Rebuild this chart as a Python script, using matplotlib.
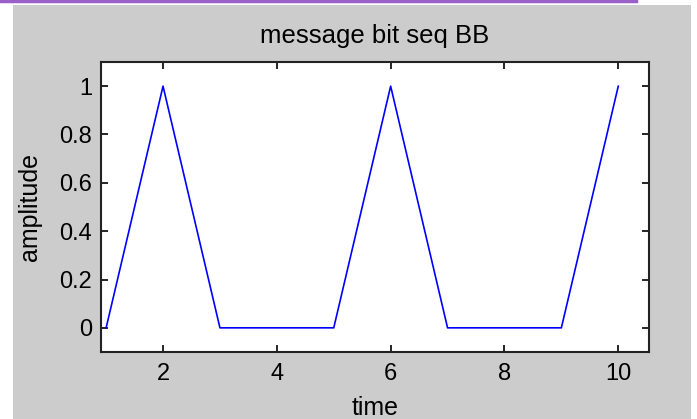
import matplotlib
matplotlib.use("Agg")
import matplotlib.pyplot as plt
from matplotlib.patches import Rectangle
from matplotlib.lines import Line2D

t = [1, 2, 3, 4, 5, 6, 7, 8, 9, 10]
amp = [0, 1, 0, 0, 0, 1, 0, 0, 0, 1]
xticks = [2, 4, 6, 8, 10]
yticks = [0, 0.2, 0.4, 0.6, 0.8, 1]
ytick_labels = ["0", "0.2", "0.4", "0.6", "0.8", "1"]

plt.rcParams['font.family'] = ['Liberation Sans', 'DejaVu Sans']

W, H = 697, 419
fig = plt.figure(figsize=(W / 100, H / 100), dpi=100, facecolor='white')

# gray figure region
fig.patches.append(Rectangle((13 / W, 0), (691 - 13) / W, (H - 5) / H,
                             transform=fig.transFigure, facecolor='#cccccc',
                             edgecolor='none', zorder=-10))
# purple line at top
fig.lines.append(Line2D([0, 636 / W], [1 - 1.5 / H, 1 - 1.5 / H],
                        transform=fig.transFigure, color='#9a5fc8', lw=2.5,
                        zorder=-5))

l, r, top, bot = 101, 649, 62, 352
ax = fig.add_axes([l / W, 1 - bot / H, (r - l) / W, (bot - top) / H])
ax.set_zorder(1)
ax.set_facecolor('white')
ax.plot(t, amp, color='#0000ff', lw=1.2)
ax.set_xlim(0.91, 10.54)
ax.set_ylim(-0.1, 1.1)
ax.set_xticks(xticks)
ax.set_xticklabels([str(v) for v in xticks])
ax.set_yticks(yticks)
ax.set_yticklabels(ytick_labels)
ax.tick_params(direction='in', top=True, right=True, length=5, width=1.2,
               labelsize=17, colors='black')
ax.tick_params(axis='x', pad=8)
ax.tick_params(axis='y', pad=6.5)
for s in ax.spines.values():
    s.set_linewidth(1.5)
    s.set_color('#222222')
ax.set_title('message bit seq BB', fontsize=18.5, pad=14)
ax.set_xlabel('time', fontsize=18, labelpad=8)
ax.set_ylabel('amplitude', fontsize=18, labelpad=12)

fig.savefig('out.png', dpi=100, facecolor='white')
